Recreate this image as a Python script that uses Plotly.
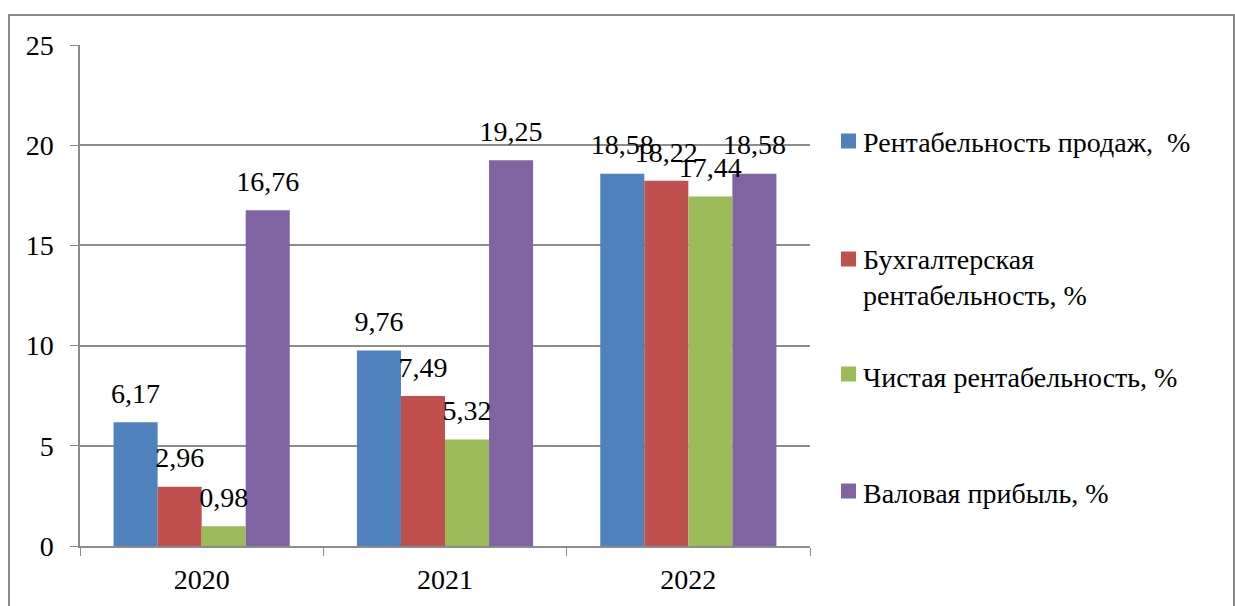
import plotly.graph_objects as go

# Годы и показатели рентабельности
years = ["2020", "2021", "2022"]
series_names = [
    "Рентабельность продаж,  %",
    "Бухгалтерская<br>рентабельность, %",
    "Чистая рентабельность, %",
    "Валовая прибыль, %",
]
sales_margin = [6.17, 9.76, 18.58]
accounting_margin = [2.96, 7.49, 18.22]
net_margin = [0.98, 5.32, 17.44]
gross_profit = [16.76, 19.25, 18.58]
y_ticks = [0, 5, 10, 15, 20, 25]

colors = ["#4F81BD", "#C0504D", "#9BBB59", "#8064A2"]
all_values = [sales_margin, accounting_margin, net_margin, gross_profit]

FONT = "Liberation Serif"
FS = 28
GRID = "#8C8C8C"
GAP = 0.276

fig = go.Figure()
for i, (name, vals, col) in enumerate(zip(series_names, all_values, colors)):
    fig.add_trace(go.Bar(
        x=years, y=vals, name=name.replace("<br>", " "),
        marker=dict(color=col, line=dict(width=0)),
        offsetgroup=str(i), alignmentgroup="g",
        showlegend=False, hoverinfo="skip",
    ))
# Value labels above each bar, grouped the same way as the bars
for i, vals in enumerate(all_values):
    fig.add_trace(go.Scatter(
        x=years, y=vals, mode="markers+text",
        text=[f"{v:.2f}".replace(".", ",") for v in vals],
        textposition="top center",
        marker=dict(size=18, opacity=0),
        textfont=dict(family=FONT, size=FS, color="black"),
        offsetgroup=str(i), alignmentgroup="g",
        cliponaxis=False, showlegend=False, hoverinfo="skip",
    ))

# Legend drawn at the right with custom spacing
W_PLOT = 730.0
H_PLOT = 501.0
legend_centers = [141, 259, 374, 491]   # vertical pixel centres of the markers
text_offsets = [2, 18, 3, 2]             # text block centre relative to marker
shapes = []
annotations = []
for name, col, cy, dy in zip(series_names, colors, legend_centers, text_offsets):
    yc = (546 - cy) / H_PLOT
    shapes.append(dict(
        type="rect", xref="paper", yref="paper",
        x0=(841 - 80) / W_PLOT, x1=(856 - 80) / W_PLOT,
        y0=yc - 7.5 / H_PLOT, y1=yc + 7.5 / H_PLOT,
        fillcolor=col, line=dict(width=0),
    ))
    annotations.append(dict(
        xref="paper", yref="paper",
        x=(861 - 80) / W_PLOT, y=(546 - cy - dy) / H_PLOT,
        xanchor="left", yanchor="middle", align="left",
        text=name, showarrow=False,
        font=dict(family=FONT, size=FS, color="black"),
    ))

# Outer chart frame
shapes.append(dict(
    type="rect", xref="paper", yref="paper",
    x0=(9 - 80) / W_PLOT, x1=(1234 - 80) / W_PLOT,
    y0=(546 - 620) / H_PLOT, y1=(546 - 15) / H_PLOT,
    line=dict(color="#8A8A8A", width=2), fillcolor="rgba(0,0,0,0)", layer="below",
))

fig.update_layout(
    width=1235, height=606,
    margin=dict(l=80, r=425, t=45, b=60),
    paper_bgcolor="white", plot_bgcolor="white",
    barmode="group", bargap=GAP, bargroupgap=0,
    scattermode="group", scattergap=GAP,
    font=dict(family=FONT, size=FS, color="black"),
    shapes=shapes, annotations=annotations,
    xaxis=dict(
        type="category", showline=True, linecolor=GRID, linewidth=1.5,
        ticks="outside", tickson="boundaries", ticklen=8, tickcolor=GRID,
        ticklabelstandoff=8,
        tickfont=dict(family=FONT, size=FS, color="black"),
        showgrid=False,
    ),
    yaxis=dict(
        range=[0, 25], tickvals=y_ticks, showline=True, linecolor=GRID, linewidth=1.5,
        ticks="outside", ticklen=8, tickcolor=GRID,
        ticklabelstandoff=11,
        showgrid=True, gridcolor=GRID, gridwidth=1.5, zeroline=False,
        tickfont=dict(family=FONT, size=FS, color="black"),
    ),
)

fig.write_html("out.html")
